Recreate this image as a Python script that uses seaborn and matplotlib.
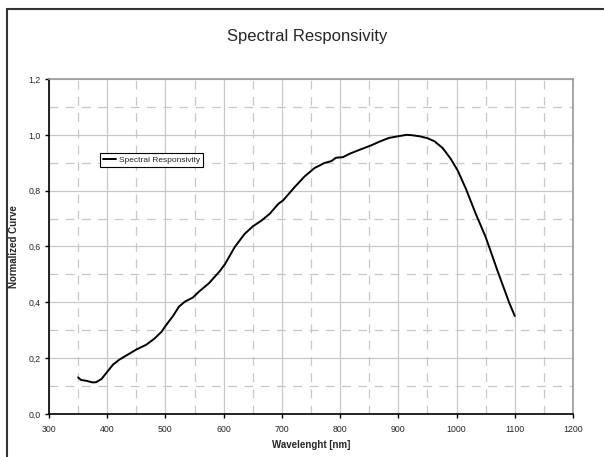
import numpy as np
import pandas as pd
import matplotlib
matplotlib.use("Agg")
import matplotlib.pyplot as plt
from matplotlib.ticker import MultipleLocator, FuncFormatter
from matplotlib.patches import Rectangle
import seaborn as sns

# -----------------------------
# Data
# -----------------------------
wavelength = [350, 355, 364, 375, 381, 390, 400, 410, 421, 438, 450, 467, 481,
              493, 501, 513, 523, 533, 547, 558, 575, 593, 602, 619, 636, 650,
              665, 679, 694, 702, 722, 739, 756, 773, 785, 793, 805, 816, 833,
              853, 868, 884, 900, 914, 922, 936, 950, 962, 976, 990, 1002,
              1016, 1033, 1050, 1070, 1090, 1100]
response = [0.131, 0.122, 0.119, 0.113, 0.114, 0.125, 0.151, 0.177, 0.195,
            0.216, 0.231, 0.248, 0.270, 0.294, 0.318, 0.351, 0.384, 0.402,
            0.417, 0.439, 0.469, 0.511, 0.536, 0.598, 0.645, 0.672, 0.693,
            0.717, 0.753, 0.765, 0.813, 0.851, 0.881, 0.899, 0.906, 0.918,
            0.920, 0.932, 0.946, 0.962, 0.976, 0.989, 0.995, 1.0, 0.999,
            0.995, 0.988, 0.977, 0.953, 0.914, 0.872, 0.807, 0.717, 0.634,
            0.515, 0.401, 0.351]

df = pd.DataFrame({"Wavelength": wavelength, "Response": response})

# -----------------------------
# Style
# -----------------------------
sns.set_style("white")
plt.rcParams["font.family"] = ["Liberation Sans", "DejaVu Sans"]

fig = plt.figure(figsize=(6.04, 4.57), dpi=100)
fig.subplots_adjust(left=49 / 604, right=573 / 604,
                    top=1 - 79 / 457, bottom=1 - 414 / 457)
ax = fig.add_subplot(111)

# outer chart frame (cut off on the right/bottom like the reference)
fig.patches.append(Rectangle((7 / 604, -0.2), 2.0, 1.2 - 9 / 457,
                             transform=fig.transFigure, fill=False,
                             edgecolor="#333333", linewidth=1.5))

# -----------------------------
# Plot
# -----------------------------
sns.lineplot(data=df, x="Wavelength", y="Response", ax=ax,
             color="black", linewidth=1.4, label="Spectral Responsivity")

ax.set_xlim(300, 1200)
ax.set_ylim(0, 1.2)
ax.xaxis.set_major_locator(MultipleLocator(100))
ax.xaxis.set_minor_locator(MultipleLocator(50))
ax.yaxis.set_major_locator(MultipleLocator(0.2))
ax.yaxis.set_minor_locator(MultipleLocator(0.1))
ax.yaxis.set_major_formatter(FuncFormatter(lambda v, _: f"{v:.1f}".replace(".", ",")))

ax.grid(which="major", color="#c8c8c8", linewidth=0.9, linestyle="-")
ax.grid(which="minor", color="#c8c8c8", linewidth=0.9, linestyle=(0, (7, 6)))
ax.set_axisbelow(True)

ax.tick_params(axis="x", which="major", pad=5)
ax.tick_params(which="major", direction="out", length=3, width=1,
               labelsize=6.3, color="black", bottom=True, left=True)
ax.tick_params(axis="y", which="major", pad=3)
ax.tick_params(which="minor", length=0)

for side in ["left", "bottom"]:
    ax.spines[side].set_color("black")
    ax.spines[side].set_linewidth(1.2)
for side in ["top", "right"]:
    ax.spines[side].set_color("#999999")
    ax.spines[side].set_linewidth(1.2)

ax.set_xlabel("Wavelenght [nm]", fontsize=7, fontweight="bold", labelpad=4)
ax.set_ylabel("Normalized Curve", fontsize=7, fontweight="bold", labelpad=7)
fig.suptitle("Spectral Responsivity", fontsize=12, x=307 / 604, y=1 - 36 / 457,
             va="center")

leg = ax.legend(loc="upper left", bbox_to_anchor=(0.097, 0.779),
                borderaxespad=0, fontsize=6, frameon=True, fancybox=False,
                edgecolor="black", framealpha=1, handlelength=1.6,
                handletextpad=0.3, borderpad=0.35)
leg.get_frame().set_linewidth(0.8)

plt.savefig("out.png", dpi=100)
plt.close()
